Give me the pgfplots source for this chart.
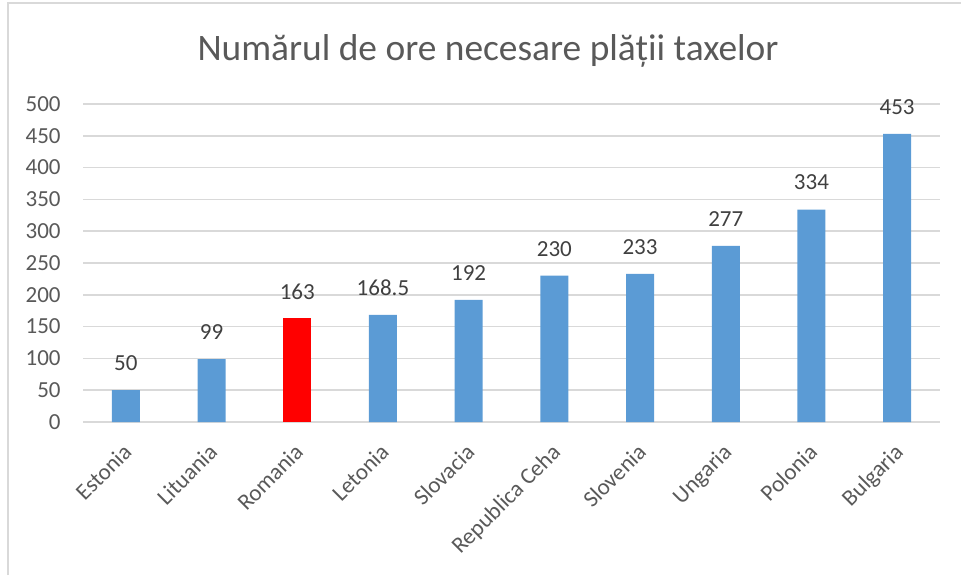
\documentclass[border=0pt]{standalone}
\usepackage{pgfplots}
\pgfplotsset{compat=1.18}
\usepackage{fontspec}
\setmainfont{Carlito}
\definecolor{barblue}{HTML}{5B9BD5}
\definecolor{barred}{HTML}{FF0000}
\definecolor{gridc}{HTML}{D9D9D9}
\definecolor{txt}{HTML}{595959}
\definecolor{lbl}{HTML}{404040}
\begin{document}
\begin{tikzpicture}
\useasboundingbox (0,0) rectangle (480.5pt,287.5pt);
\draw[gridc, line width=1pt] (4pt,0pt) -- (4pt,286pt) -- (480.5pt,286pt);
\node[txt, font=\fontsize{18.7}{22}\selectfont] at (244pt,262pt) {Numărul de ore necesare plății taxelor};
\begin{axis}[
  at={(41.5pt,76.5pt)}, anchor=south west,
  scale only axis, width=428.5pt, height=159pt,
  xmin=-0.5, xmax=9.5, ymin=0, ymax=500,
  ytick={0,50,...,500},
  xtick={0,...,9},
  xticklabels={Estonia,Lituania,Romania,Letonia,Slovacia,Republica Ceha,Slovenia,Ungaria,Polonia,Bulgaria},
  axis line style={draw=none},
  major tick length=0pt,
  ymajorgrids, grid style={gridc, line width=0.8pt},
  /pgf/number format/assume math mode=true,
  tick label style={txt, font=\fontsize{11.5}{13}\selectfont},
  yticklabel style={anchor=east, inner sep=0pt, xshift=-11pt},
  xticklabel style={yshift=-10pt, xshift=-2pt, rotate=45, anchor=north east, inner sep=0pt},
  ybar, bar width=14pt,
  nodes near coords,
  every node near coord/.append style={lbl, font=\fontsize{11.5}{13}\selectfont, anchor=center, yshift=13.5pt, /pgf/number format/assume math mode=true},
]
\addplot[fill=barblue, draw=none, bar shift=0pt] coordinates {(0,50) (1,99) (3,168.5) (4,192) (5,230) (6,233) (7,277) (8,334) (9,453)};
\addplot[fill=barred, draw=none, bar shift=0pt] coordinates {(2,163)};
\end{axis}
\end{tikzpicture}
\end{document}
